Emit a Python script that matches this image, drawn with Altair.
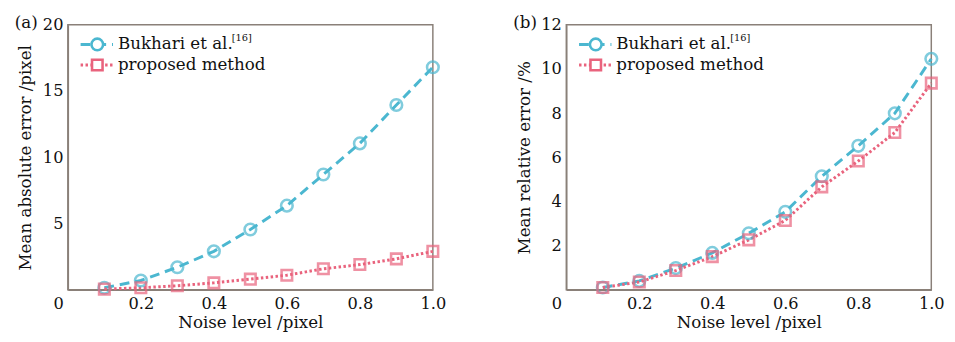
import altair as alt
import pandas as pd

noise = [0.1, 0.2, 0.3, 0.4, 0.5, 0.6, 0.7, 0.8, 0.9, 1.0]
mae_bukhari = [0.15, 0.7, 1.7, 2.9, 4.55, 6.35, 8.7, 11.05, 13.95, 16.8]
mae_proposed = [0.05, 0.15, 0.3, 0.52, 0.8, 1.1, 1.58, 1.9, 2.33, 2.9]
mre_bukhari = [0.1, 0.4, 0.98, 1.67, 2.56, 3.53, 5.14, 6.52, 7.99, 10.46]
mre_proposed = [0.1, 0.35, 0.87, 1.5, 2.26, 3.14, 4.66, 5.83, 7.12, 9.36]

series_names = ["Bukhari et al.", "proposed method"]
x_ticks = [0, 0.2, 0.4, 0.6, 0.8, 1.0]

BLUE = "#4bb7d0"
PINK = "#e9637d"
FRAME = "#8a8079"
FONT = "DejaVu Serif"
TXT = "#111111"


def make_df(a, b):
    rows = []
    for x, v in zip(noise, a):
        rows.append({"noise": x, "value": v, "series": series_names[0]})
    for x, v in zip(noise, b):
        rows.append({"noise": x, "value": v, "series": series_names[1]})
    return pd.DataFrame(rows)


def panel(df, ymax, yticks, ytitle, tag):
    color = alt.Color("series:N", scale=alt.Scale(domain=series_names, range=[BLUE, PINK]), legend=None)
    xenc = alt.X(
        "noise:Q",
        scale=alt.Scale(domain=[0, 1], nice=False, zero=False),
        axis=alt.Axis(
            values=x_ticks,
            labelExpr="datum.value == 0 ? '0' : format(datum.value, '.1f')",
            labelOffset={"condition": {"test": "datum.value == 0", "value": -10}, "value": 0},
            labelFlush=False,
            title="Noise level /pixel",
            titlePadding=3,
            labelPadding=6,
        ),
    )
    yenc = alt.Y(
        "value:Q",
        scale=alt.Scale(domain=[0, ymax], nice=False),
        axis=alt.Axis(values=yticks, title=ytitle, titlePadding=8, labelPadding=5, labelFlush=False),
    )
    base = alt.Chart(df)
    lines = base.mark_line(strokeWidth=3, clip=False).encode(
        x=xenc, y=yenc, color=color,
        strokeDash=alt.StrokeDash("series:N", scale=alt.Scale(domain=series_names, range=[[10, 6], [2.5, 2.5]]), legend=None),
    )
    points = base.mark_point(filled=False, strokeWidth=2.6, clip=False).encode(
        x=xenc, y=yenc, color=color,
        shape=alt.Shape("series:N", scale=alt.Scale(domain=series_names, range=["circle", "square"]), legend=None),
        size=alt.Size("series:N", scale=alt.Scale(domain=series_names, range=[140, 115]), legend=None),
    )
    one = pd.DataFrame({"k": [0]})
    leg = []
    ys = [20, 41]
    dashes = [[10, 6], [2.5, 2.5]]
    cols = [BLUE, PINK]
    shapes = ["circle", "square"]
    sizes = [140, 115]
    for i in range(2):
        leg.append(alt.Chart(one).mark_rule(stroke=cols[i], strokeWidth=3, strokeDash=dashes[i]).encode(
            x=alt.value(13), x2=alt.value(46), y=alt.value(ys[i])))
        leg.append(alt.Chart(one).mark_point(shape=shapes[i], filled=False, color=cols[i], strokeWidth=2.6, size=sizes[i], fill="white", fillOpacity=1).encode(
            x=alt.value(30), y=alt.value(ys[i])))
        leg.append(alt.Chart(one).mark_text(align="left", baseline="middle", font=FONT, fontSize=17, color=TXT).encode(
            x=alt.value(51), y=alt.value(ys[i]), text=alt.value(series_names[i])))
    leg.append(alt.Chart(one).mark_text(align="left", baseline="middle", font=FONT, fontSize=10, color=TXT).encode(
        x=alt.value(167), y=alt.value(13), text=alt.value("[16]")))
    leg.append(alt.Chart(one).mark_text(align="left", baseline="middle", font=FONT, fontSize=17, color=TXT).encode(
        x=alt.value(-54), y=alt.value(-2), text=alt.value(tag)))
    return alt.layer(lines, points, *leg).properties(width=372, height=270)


left = panel(make_df(mae_bukhari, mae_proposed), 20, [5, 10, 15, 20], "Mean absolute error /pixel", "(a)")
right = panel(make_df(mre_bukhari, mre_proposed), 12, [2, 4, 6, 8, 10, 12], "Mean relative error /%", "(b)")

chart = alt.hconcat(left, right, spacing=67).properties(
    padding={"left": 6, "top": 2, "right": 2, "bottom": 2}
).configure_view(
    stroke=FRAME, strokeWidth=1.5
).configure_axis(
    labelFont=FONT, labelFontSize=16.5, labelColor=TXT,
    titleFont=FONT, titleFontSize=17, titleFontWeight="normal", titleColor=TXT,
    domainColor=FRAME, domainWidth=1.5, ticks=False, grid=False,
)

chart.save("out.html", embed_options={"renderer": "svg", "actions": False})
